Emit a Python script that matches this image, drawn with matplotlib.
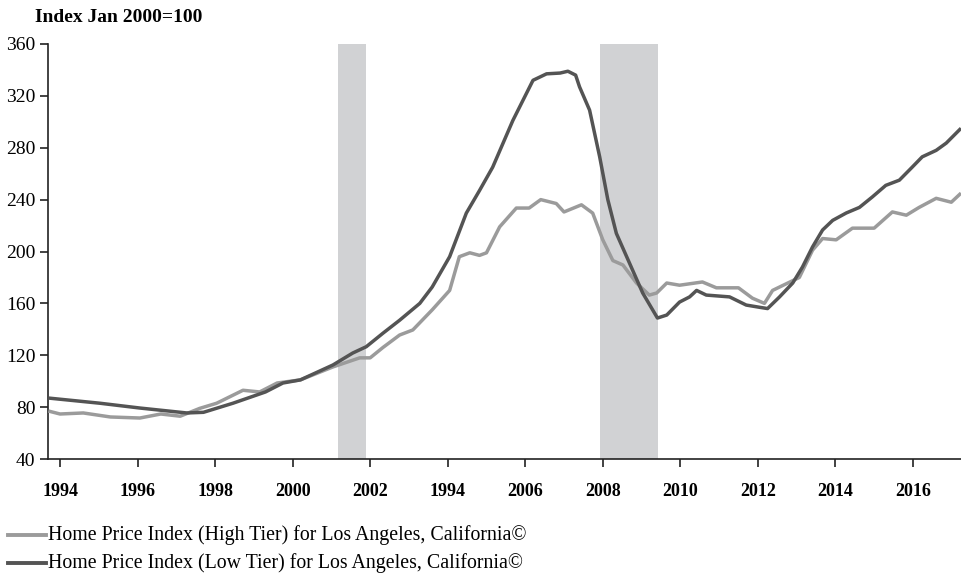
import matplotlib
matplotlib.use("Agg")
import matplotlib.pyplot as plt
from matplotlib.lines import Line2D

plt.rcParams['font.family'] = ['Liberation Serif', 'DejaVu Serif']

# Data (decimal year, index value)
high_years = [1993.70, 1994.00, 1994.60, 1995.30, 1996.06, 1996.60, 1997.10, 1997.60, 1998.04,
              1998.72, 1999.15, 1999.60, 2000.20, 2001.04, 2001.73, 2002.00, 2002.33, 2002.76,
              2003.10, 2003.60, 2004.05, 2004.30, 2004.57, 2004.82, 2005.00, 2005.34, 2005.77,
              2006.10, 2006.40, 2006.80, 2007.00, 2007.45, 2007.74, 2008.00, 2008.26, 2008.52,
              2008.87, 2009.20, 2009.39, 2009.65, 2009.98, 2010.57, 2010.93, 2011.50, 2011.86,
              2012.17, 2012.38, 2013.07, 2013.41, 2013.67, 2014.02, 2014.44, 2015.00, 2015.47,
              2015.83, 2016.16, 2016.60, 2016.99, 2017.24]
high_vals = [77, 74.7, 75.5, 72.4, 71.6, 74.7, 73, 79, 83,
             93, 91.7, 98.6, 101, 111, 118, 118, 126, 135.6,
             139.5, 155, 170, 196, 199, 197, 199, 219, 233.5,
             233.5, 240, 237, 230.5, 236, 229.6, 209, 193, 189.6,
             175.7, 166.4, 168, 175.7, 174, 176.5, 172, 172, 164,
             160, 170, 180, 201, 210, 209, 218, 218, 230.5,
             228, 234, 241, 238, 245]

low_years = [1993.70, 1995.03, 1996.06, 1997.27, 1997.70, 1998.46, 1999.30, 1999.75, 2000.20,
             2001.04, 2001.55, 2001.90, 2002.33, 2002.76, 2003.28, 2003.60, 2004.05, 2004.48,
             2004.82, 2005.16, 2005.68, 2006.20, 2006.55, 2006.90, 2007.10, 2007.30, 2007.40,
             2007.66, 2007.92, 2008.13, 2008.35, 2008.69, 2009.03, 2009.41, 2009.65, 2009.98,
             2010.24, 2010.42, 2010.67, 2011.27, 2011.70, 2012.04, 2012.25, 2012.56, 2012.90,
             2013.15, 2013.41, 2013.67, 2013.93, 2014.28, 2014.62, 2014.95, 2015.30, 2015.65,
             2015.98, 2016.24, 2016.60, 2016.86, 2017.24]
low_vals = [87, 83, 79.3, 75.5, 76, 83, 91.7, 98.6, 101,
            112.5, 121.7, 126.6, 137, 147, 160, 172.6, 196, 229.6,
            247, 265, 301, 332, 337, 337.6, 339, 336, 327,
            309, 273, 240, 214, 191, 168, 148.7, 151, 161,
            165, 170, 166.4, 165, 158.7, 157, 156, 165, 175.7,
            188, 203.5, 216.6, 224, 229.7, 234, 242, 251, 255,
            265, 273, 278, 283.6, 295]

recessions = [(2001.18, 2001.88), (2007.93, 2009.43)]
tick_years = [1994, 1996, 1998, 2000, 2002, 2004, 2006, 2008, 2010, 2012, 2014, 2016]
tick_labels = ['1994', '1996', '1998', '2000', '2002', '1994', '2006', '2008', '2010',
               '2012', '2014', '2016']
y_ticks = [40, 80, 120, 160, 200, 240, 280, 320, 360]

high_label = 'Home Price Index (High Tier) for Los Angeles, California©'
low_label = 'Home Price Index (Low Tier) for Los Angeles, California©'

high_color = '#9b9b9b'
low_color = '#545454'

fig = plt.figure(figsize=(9.61, 5.76), dpi=100)
ax = fig.add_axes([48/961, 1 - 459/576, 1 - 48/961, (459 - 44)/576])

for a, b in recessions:
    ax.axvspan(a, b, color='#d1d2d4', lw=0, zorder=1)

ax.plot(high_years, high_vals, color=high_color, lw=2.5, zorder=3, solid_capstyle='butt')
ax.plot(low_years, low_vals, color=low_color, lw=2.5, zorder=4, solid_capstyle='butt')

ax.set_xlim(1993.69, 2017.24)
ax.set_ylim(40, 360)
ax.set_xticks(tick_years)
ax.set_xticklabels(tick_labels, fontweight='bold', fontsize=13)
ax.set_yticks(y_ticks)
ax.set_yticklabels([str(v) for v in y_ticks], fontsize=14)
for s in ['top', 'right']:
    ax.spines[s].set_visible(False)
for s in ['left', 'bottom']:
    ax.spines[s].set_color('#222222')
    ax.spines[s].set_linewidth(1.2)
ax.tick_params(axis='x', direction='out', length=6, width=1.2, color='#222222', pad=11)
ax.tick_params(axis='y', direction='out', length=6, width=1.2, color='#222222', pad=3)

fig.text(35/961, 1 - 18/576, 'Index Jan 2000=100', fontsize=14, fontweight='bold',
         va='center', ha='left')

# Legend below
for yy, col, lab in [(535, high_color, high_label), (563, low_color, low_label)]:
    fig.add_artist(Line2D([8/961, 46/961], [1 - yy/576, 1 - yy/576], color=col, lw=2.8,
                          transform=fig.transFigure))
    fig.text(48/961, 1 - yy/576, lab, fontsize=14.3, va='center', ha='left')

fig.savefig('out.png', dpi=100)
